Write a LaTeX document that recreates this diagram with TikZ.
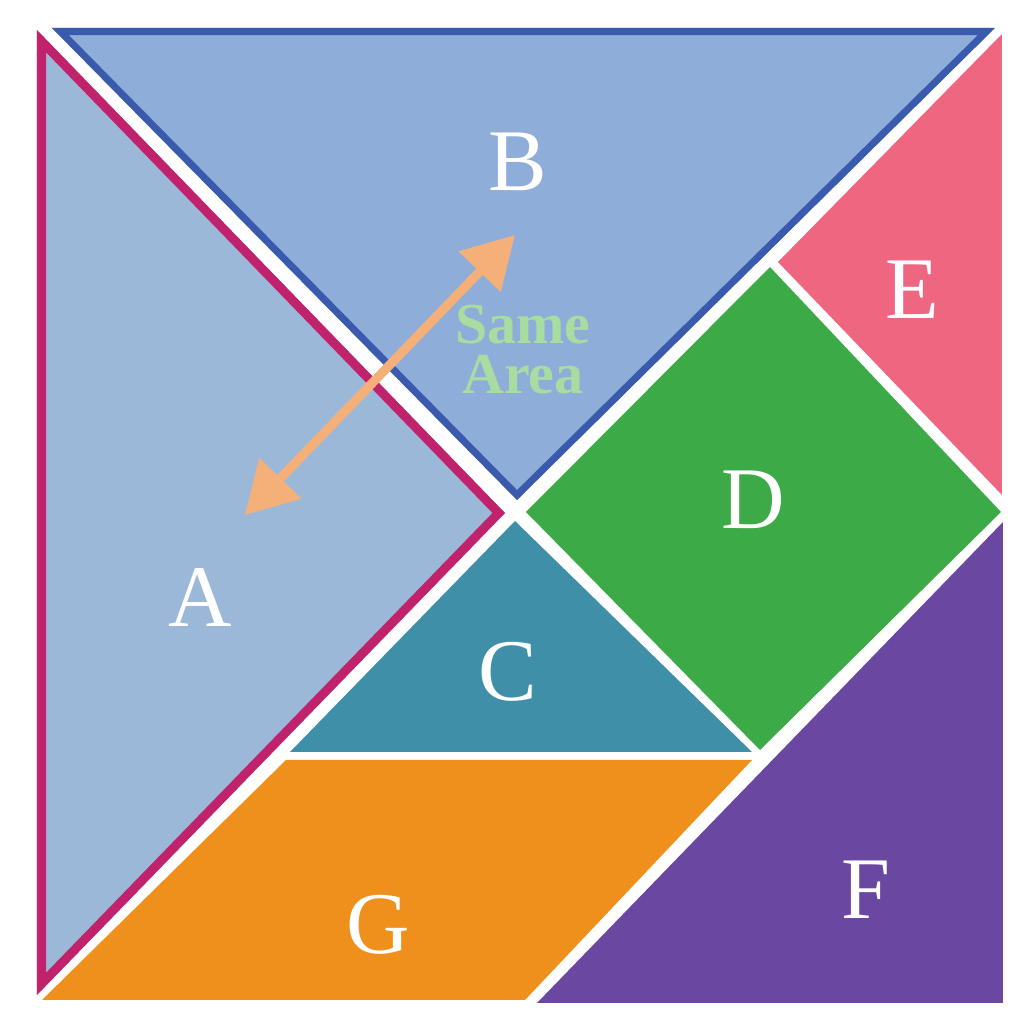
\documentclass[tikz,border=0pt]{standalone}
\usepackage{fontspec}
\setmainfont{Liberation Serif}
\usetikzlibrary{arrows.meta}
\definecolor{aFill}{HTML}{9CB8D9}
\definecolor{aLine}{HTML}{C0226B}
\definecolor{bFill}{HTML}{8FADD9}
\definecolor{bLine}{HTML}{3A5AAE}
\definecolor{eFill}{HTML}{EE6680}
\definecolor{dFill}{HTML}{3DAA48}
\definecolor{cFill}{HTML}{3F8FA8}
\definecolor{gFill}{HTML}{F0901C}
\definecolor{fFill}{HTML}{6A47A0}
\definecolor{arrowC}{HTML}{F5B07A}
\definecolor{areaC}{HTML}{A8DCA0}
\tikzset{
  letter/.style={text=white, font=\fontsize{25}{26}\selectfont, inner sep=0pt},
  arealabel/.style={text=areaC, font=\bfseries\fontsize{16.5}{14.2}\selectfont, align=center, inner sep=0pt},
  sizearrow/.style={draw=arrowC, line width=2.6pt, {Triangle[length=14.5pt,width=16pt]}-{Triangle[length=14.5pt,width=16pt]}}
}
\begin{document}
\begin{tikzpicture}[x=0.01cm,y=-0.01cm]
\useasboundingbox (0,0) rectangle (1029,1024);
% A
\begin{scope}
  \clip (37,30) -- (37,995) -- (505,513) -- cycle;
  \fill[aFill] (37,30) -- (37,995) -- (505,513) -- cycle;
  \draw[aLine, line width=0.18cm] (37,30) -- (37,995) -- (505,513) -- cycle;
\end{scope}
% B
\begin{scope}
  \clip (52,28) -- (995,28) -- (517,500) -- cycle;
  \fill[bFill] (52,28) -- (995,28) -- (517,500) -- cycle;
  \draw[bLine, line width=0.14cm] (52,28) -- (995,28) -- (517,500) -- cycle;
\end{scope}
% E
\fill[eFill] (1002,34) -- (1002,495) -- (778,262) -- cycle;
% D
\fill[dFill] (526,512) -- (770,267) -- (1001,512) -- (760,750) -- cycle;
% C
\fill[cFill] (515,521) -- (290,752) -- (752,752) -- cycle;
% G
\fill[gFill] (286,760) -- (752,760) -- (525,1000) -- (42,1000) -- cycle;
% F
\fill[fFill] (1003,522) -- (1003,1003) -- (537,1003) -- cycle;
% labels
\node[letter] (lA) at (200,597) {A};
\node[letter] (lB) at (518,162) {B};
\node[letter] (lC) at (508,672) {C};
\node[letter] (lD) at (753,500) {D};
\node[letter] (lE) at (912,290) {E};
\node[letter] (lF) at (866,890) {F};
\node[letter] (lG) at (378,925) {G};
% same area
\coordinate (pA) at (245,515);
\coordinate (pB) at (515,235);
\draw[sizearrow] (pA) -- (pB);
\node[arealabel] (area) at (523,350) {Same\\Area};
\end{tikzpicture}
\end{document}
